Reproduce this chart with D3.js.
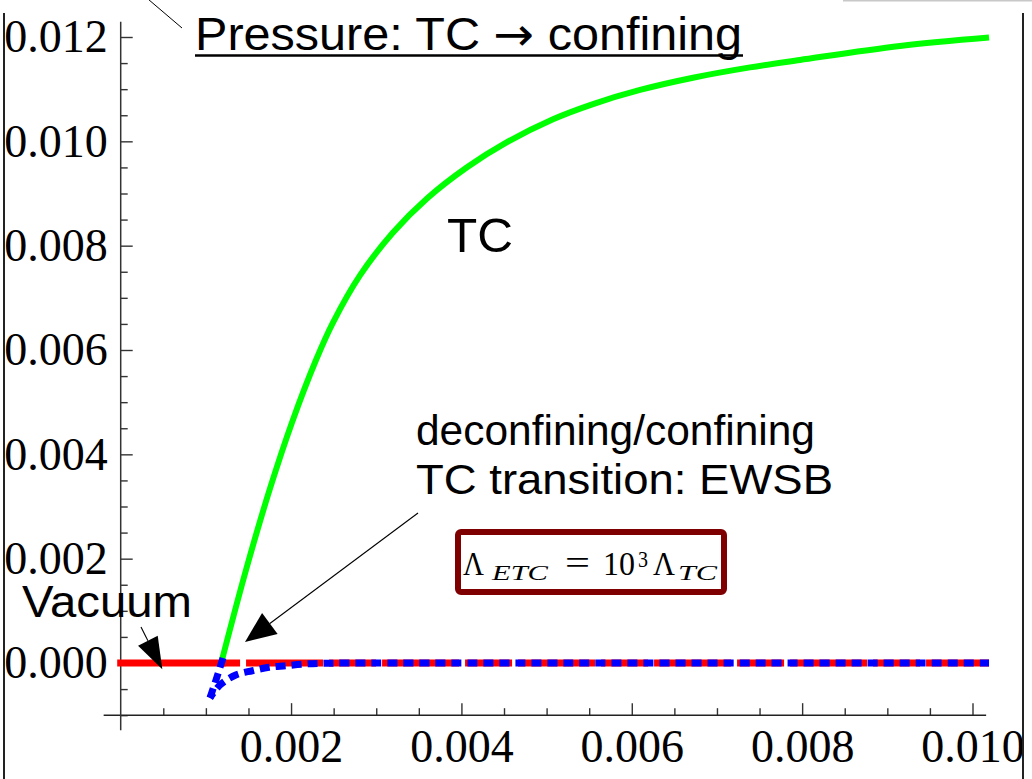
<!DOCTYPE html>
<html>
<head>
<meta charset="utf-8">
<script src="https://cdn.jsdelivr.net/npm/d3@7"></script>
<style>
  body { margin: 0; background: #fff; }
  svg { display: block; }
  .sans { font-family: "Liberation Sans", Arial, sans-serif; fill: #000; }
  .serif { font-family: "Liberation Serif", "Times New Roman", serif; fill: #000; }
  .tick line { stroke: #333; stroke-width: 1.4; }
</style>
</head>
<body>
<svg id="canvas" width="1032" height="779"></svg>
<script>
// ************************************************************************************** //
// Data

var xMajor = [0.002, 0.004, 0.006, 0.008, 0.010];
var yMajor = [0.000, 0.002, 0.004, 0.006, 0.008, 0.010, 0.012];

// TC (deconfined) branch, green
var tcX = [0.001189, 0.001471, 0.001753, 0.002011, 0.002293, 0.002492, 0.002809, 0.003197, 0.003596, 0.004066,
           0.004535, 0.005075, 0.005545, 0.006097, 0.006719, 0.007388, 0.007975, 0.009149, 0.010194];
var tcY = [0.000058, 0.001783, 0.003347, 0.004612, 0.005808, 0.006525, 0.007430, 0.008252, 0.008904, 0.009502,
           0.009983, 0.010424, 0.010715, 0.010985, 0.011219, 0.011417, 0.011560, 0.011829, 0.011990];

// blue dotted, steep branch down to the cusp
var blueUpX = [0.001201, 0.001119, 0.001048];
var blueUpY = [0.000096, -0.000326, -0.000671];
// blue dotted, lower branch from the cusp
var blueLowX = [0.001048, 0.001166, 0.001350, 0.001545, 0.001741, 0.001937, 0.002164, 0.002375, 0.003000, 0.010194];
var blueLowY = [-0.000671, -0.000422, -0.000230, -0.000148, -0.000082, -0.000052, -0.000019, -0.000006, 0.000000, 0.000000];

// vacuum, red: stable part then metastable part
var vacStableX = [0, 0.001190];
var vacMetaX = [0.001190, 0.010194];
var vacY = [0, 0];

// ************************************************************************************** //
// Scales and axes

var svg = d3.select('#canvas');
var x = d3.scaleLinear().domain([0, 0.010]).range([120.7, 972.5]);
var y = d3.scaleLinear().domain([0, 0.012]).range([663, 37]);
var fmt = d3.format('.3f');

var xMinor = d3.range(1, 21).map(function(i){ return i*0.0005; }).filter(function(v){ return Math.round(v*10000) % 20 != 0; });
var yMinor = d3.range(-2, 25).map(function(i){ return i*0.0005; }).filter(function(v){ return Math.round(v*10000) % 20 != 0; });

var axes_g = svg.append('g');
var xAxisY = y(-0.001);

axes_g.append('g').attr('transform', 'translate(0,' + xAxisY + ')')
  .call(d3.axisBottom(x).tickValues(xMinor).tickSize(-7).tickFormat(''));
var xg = axes_g.append('g').attr('transform', 'translate(0,' + xAxisY + ')')
  .call(d3.axisBottom(x).tickValues(xMajor).tickSize(-12).tickPadding(14).tickFormat(fmt));
xg.selectAll('text').attr('class', 'serif').style('font-size', '46px');

axes_g.append('g').attr('transform', 'translate(' + x(0) + ',0)')
  .call(d3.axisLeft(y).tickValues(yMinor).tickSize(-7).tickFormat(''));
var yg = axes_g.append('g').attr('transform', 'translate(' + x(0) + ',0)')
  .call(d3.axisLeft(y).tickValues(yMajor).tickSize(-12).tickPadding(13).tickFormat(fmt));
yg.selectAll('text').attr('class', 'serif').style('font-size', '46px');

axes_g.selectAll('.domain').remove();
axes_g.append('line').attr('x1', x(-0.0002)).attr('x2', x(0.01016)).attr('y1', xAxisY).attr('y2', xAxisY)
  .style('stroke', '#222').style('stroke-width', 1.5);
axes_g.append('line').attr('x1', x(0)).attr('x2', x(0)).attr('y1', y(0.01229)).attr('y2', y(-0.00129))
  .style('stroke', '#333').style('stroke-width', 1.5);

// ************************************************************************************** //
// Curves

var line = d3.line().x(function(d){ return x(d[0]); }).y(function(d){ return y(d[1]); });
function pts(xs, ys){ return xs.map(function(v, i){ return [v, ys[i]]; }); }

var plot_g = svg.append('g').style('fill', 'none');

plot_g.append('path').attr('d', line(pts(vacStableX, vacY)))
  .style('stroke', '#ff0000').style('stroke-width', 7).style('stroke-linecap', 'square');
plot_g.append('path').attr('d', line(pts(vacMetaX, vacY)))
  .style('stroke', '#ff0000').style('stroke-width', 7)
  .style('stroke-dasharray', '47,6,77,6').style('stroke-dashoffset', 29);

plot_g.append('path').attr('d', line.curve(d3.curveCatmullRom)(pts(tcX, tcY)))
  .style('stroke', '#00ff00').style('stroke-width', 6);

plot_g.append('path').attr('d', line.curve(d3.curveLinear)(pts(blueUpX, blueUpY)))
  .style('stroke', '#0000ff').style('stroke-width', 7).style('stroke-dasharray', '10,6');
plot_g.append('path').attr('d', line.curve(d3.curveCatmullRom)(pts(blueLowX, blueLowY)))
  .style('stroke', '#0000ff').style('stroke-width', 7).style('stroke-dasharray', '10,6').style('stroke-dashoffset', 4);

// ************************************************************************************** //
// Frame of the cut-out and annotations

var frame_g = svg.append('g').style('stroke-width', 2);
frame_g.append('line').attr('x1', 4).attr('x2', 4).attr('y1', 13).attr('y2', 779).style('stroke', '#222');
frame_g.append('line').attr('x1', 1023).attr('x2', 1023).attr('y1', 13).attr('y2', 779).style('stroke', '#222');
frame_g.append('line').attr('x1', 843).attr('x2', 1032).attr('y1', 0.5).attr('y2', 0.5).style('stroke', '#c8c8c8');

function arrow(g, x1, y1, x2, y2, L, W){
  var dx = x2 - x1, dy = y2 - y1, len = Math.sqrt(dx*dx + dy*dy);
  var ux = dx/len, uy = dy/len;
  var bx = x2 - ux*L, by = y2 - uy*L;
  g.append('line').attr('x1', x1).attr('y1', y1).attr('x2', bx).attr('y2', by)
    .style('stroke', '#000').style('stroke-width', 1.1);
  g.append('path').attr('d', 'M' + x2 + ',' + y2 + 'L' + (bx - uy*W) + ',' + (by + ux*W) + 'L' + (bx + uy*W) + ',' + (by - ux*W) + 'Z')
    .style('fill', '#000');
}

var note_g = svg.append('g');
note_g.append('line').attr('x1', 135).attr('y1', -12).attr('x2', 182).attr('y2', 28)
  .style('stroke', '#000').style('stroke-width', 1);
arrow(note_g, 141, 627, 162.3, 669.3, 32, 11);
arrow(note_g, 418, 513, 245, 642, 31, 13);

function label(txt, lx, ly, size, width){
  return note_g.append('text').attr('class', 'sans').attr('x', lx).attr('y', ly).style('font-size', size + 'px')
    .attr('textLength', width).attr('lengthAdjust', 'spacingAndGlyphs').text(txt);
}

var title = note_g.append('text').attr('class', 'sans').attr('x', 195).attr('y', 50).style('font-size', '46px')
  .attr('textLength', 547).attr('lengthAdjust', 'spacingAndGlyphs');
title.append('tspan').text('Pressure: TC ');
title.append('tspan').style('font-family', '"DejaVu Sans", sans-serif').text('\u2192');
title.append('tspan').text(' confining');
note_g.append('line').attr('x1', 195).attr('x2', 743).attr('y1', 55.5).attr('y2', 55.5)
  .style('stroke', '#000').style('stroke-width', 2.5);

label('TC', 447, 252, 48, 66);
label('deconfining/confining', 416, 445, 42, 399);
label('TC transition: EWSB', 416, 494, 42, 417);
label('Vacuum', 22, 617, 45, 170);

// Lambda box
var box_g = svg.append('g');
box_g.append('rect').attr('x', 458).attr('y', 532).attr('width', 266).attr('height', 60).attr('rx', 3)
  .style('fill', '#fff').style('stroke', '#7f0000').style('stroke-width', 6);
var mathParts = [
  { t: '\u039b', x: 463, y: 575, s: 34, w: 21, it: false },
  { t: 'ETC',    x: 492, y: 580, s: 22, w: 56, it: true },
  { t: '=',      x: 565, y: 574, s: 34, w: 25, it: false },
  { t: '10',     x: 603, y: 575, s: 34, w: 32, it: false },
  { t: '3',      x: 638, y: 567, s: 23, w: 10, it: false },
  { t: '\u039b', x: 653, y: 575, s: 34, w: 22, it: false },
  { t: 'TC',     x: 678, y: 580, s: 22, w: 39, it: true }
];
box_g.selectAll('text.m').data(mathParts).enter().append('text')
  .attr('class', 'serif m')
  .attr('x', function(d){ return d.x; }).attr('y', function(d){ return d.y; })
  .attr('textLength', function(d){ return d.w; }).attr('lengthAdjust', 'spacingAndGlyphs')
  .style('font-size', function(d){ return d.s + 'px'; })
  .style('font-style', function(d){ return d.it ? 'italic' : 'normal'; })
  .text(function(d){ return d.t; });
</script>
</body>
</html>
